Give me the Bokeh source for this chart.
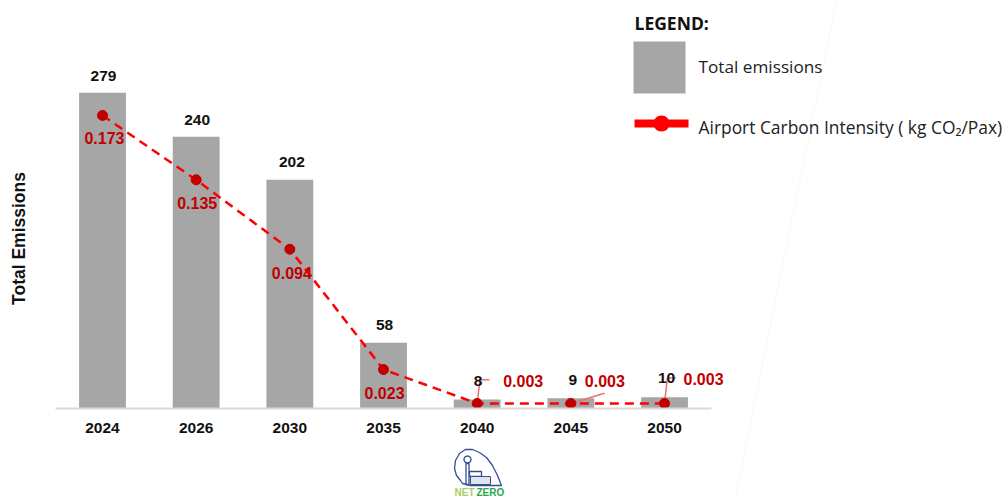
import math
from bokeh.plotting import figure
from bokeh.core.properties import value
from bokeh.models import (ColumnDataSource, Range1d, LabelSet, Label,
                          BoxAnnotation, PolyAnnotation, FixedTicker)
from bokeh.embed import file_html
from bokeh.resources import INLINE

years = ["2024", "2026", "2030", "2035", "2040", "2045", "2050"]
emissions = [279, 240, 202, 58, 8, 9, 10]
intensity = [0.173, 0.135, 0.094, 0.023, 0.003, 0.003, 0.003]
intensity_labels = ["0.173", "0.135", "0.094", "0.023", "0.003", "0.003", "0.003"]

# label offsets (style, px)
em_dx = [1, 1, 2, 1, 1, 2, 2]
em_dy = [17, 17, 18, 18, 18, 18, 19]
int_dx = [2, 1, 2, 1, 46, 34, 39]
int_dy = [-23, -23, -24, -23, 22, 22, 24]

W, H = 1005, 497
BASE_Y = 408          # pixel row of the zero line
PX_EM = 1.132         # px per emission unit
PX_CI = 1694.0        # px per kg CO2/Pax
X0, DX = 102.0, 93.67 # pixel centre of first category, category step

x_pos = list(range(len(years)))

p = figure(width=W, height=H, x_range=Range1d(-X0 / DX, (W - X0) / DX),
           y_range=Range1d(-(H - BASE_Y) / PX_EM, BASE_Y / PX_EM),
           toolbar_location=None, output_backend="svg",
           min_border_left=0, min_border_right=0, min_border_top=0, min_border_bottom=0,
           outline_line_color=None, background_fill_color="white")
p.grid.visible = False
p.yaxis.visible = False
p.extra_y_ranges = {"ci": Range1d(-(H - BASE_Y) / PX_CI, BASE_Y / PX_CI)}

ax = p.xaxis[0]
ax.fixed_location = 0
ax.bounds = (-0.5, len(years) - 0.5)
ax.ticker = FixedTicker(ticks=x_pos)
ax.major_label_overrides = {i: y for i, y in zip(x_pos, years)}
ax.axis_line_color = "#d9d9d9"
ax.axis_line_width = 2
ax.major_tick_line_color = None
ax.minor_tick_line_color = None
ax.major_label_text_font = "Liberation Sans"
ax.major_label_text_font_style = "bold"
ax.major_label_text_font_size = "15.5px"
ax.major_label_text_color = "#111111"
ax.major_label_standoff = 8

# ---- screen helpers: page pixels -> frame screen coordinates (origin bottom left)
def sx(x): return x
def sy(y): return H - y

def label(x, y, text, size, color="#222222", font="Open Sans", style="normal", align="left", angle=0.0):
    p.add_layout(Label(x=sx(x), y=sy(y), x_units="screen", y_units="screen", text=text,
                       text_font=font, text_font_size=size, text_font_style=style, text_color=color,
                       text_align=align, text_baseline="middle", angle=angle))

def box(l, t, r, b, color):
    p.add_layout(BoxAnnotation(left=sx(l), right=sx(r), top=sy(t), bottom=sy(b), left_units="screen",
                               right_units="screen", top_units="screen", bottom_units="screen",
                               fill_color=color, fill_alpha=1, line_color=None, level="overlay"))

def poly(xs, ys, fill=None, line="#34508f", lw=1.3, level="overlay"):
    p.add_layout(PolyAnnotation(xs=[sx(x) for x in xs], ys=[sy(y) for y in ys], xs_units="screen",
                                ys_units="screen", fill_color=fill, fill_alpha=1 if fill else 0,
                                line_color=line, line_alpha=1, line_width=lw, level=level))

def circle(cx, cy, r):
    a = [i * 2 * math.pi / 32 for i in range(32)]
    return [cx + r * math.cos(t) for t in a], [cy + r * math.sin(t) for t in a]

# faint diagonal trace from the source background
poly([836, 735], [0, 497], line="#f8f8f8", lw=1, level="underlay")

src = ColumnDataSource(dict(x=x_pos, em=emissions, ci=intensity, lab=intensity_labels,
                            em_lab=[str(v) for v in emissions],
                            em_dx=em_dx, em_dy=em_dy, int_dx=int_dx, int_dy=int_dy))
p.vbar(x="x", top="em", bottom=0, width=0.5, source=src, fill_color="#a6a6a6", line_color=None)

# leader lines (from the data point to the floating label)
leaders = [(4, [(0.0, 0.003), (0.03, 0.017), (0.13, 0.017)]),
           (5, [(0.0, 0.003), (0.36, 0.009)]),
           (6, [(0.0, 0.003), (0.03, 0.018), (0.12, 0.018)])]
for idx, pts in leaders:
    p.line(x=[x_pos[idx] + d for d, _ in pts], y=[v for _, v in pts], y_range_name="ci",
           line_color="#f07070", line_width=1.5)

p.line(x="x", y="ci", source=src, y_range_name="ci", line_color="#ff0000", line_width=2.5,
       line_dash="9 6")
p.scatter(x="x", y="ci", source=src, y_range_name="ci", size=10, fill_color="#c00000",
          line_color="#c00000")

p.add_layout(LabelSet(x="x", y="em", text="em_lab", source=src, x_offset="em_dx", y_offset="em_dy",
                      text_align="center", text_baseline="middle", text_font=value("Liberation Sans"),
                      text_font_style="bold", text_font_size="15.5px", text_color="#111111"))
p.add_layout(LabelSet(x="x", y="ci", text="lab", source=src, y_range_name="ci", x_offset="int_dx",
                      y_offset="int_dy", text_align="center", text_baseline="middle",
                      text_font=value("Liberation Sans"), text_font_style="bold",
                      text_font_size="16px", text_color="#c00000"))

# y axis title
label(18, 238, "Total Emissions", "17.5px", color="#111111", font="Liberation Sans", style="bold",
      align="center", angle=math.pi / 2)

# legend
label(634, 22, "LEGEND:", "17.5px", color="#111111", style="bold")
box(633, 41, 685, 93, "#a6a6a6")
label(698, 66, "Total emissions", "17.2px")
box(634, 119, 688, 127, "#ff0000")
cx, cy = circle(661, 123, 8)
poly(cx, cy, fill="#ff0000", line="#ff0000", lw=0)
label(698, 126, "Airport Carbon Intensity ( kg CO\u2082/Pax)", "17.4px")

# logo
tx = [460, 456, 454, 455, 459, 465, 472, 479, 486, 492, 497, 501, 470, 462]
ty = [480, 475, 468, 460, 453, 449, 449, 452, 457, 465, 475, 485, 485, 483]
poly(tx, ty)
cx, cy = circle(467, 459, 3.5)
poly(cx, cy)
poly([465.5, 468.5, 468.5, 465.5], [463, 463, 484, 484])
poly([469, 481, 481, 469], [471, 471, 476, 476])
poly([470, 490, 490, 470], [476, 476, 484, 484], fill="#dfe4f0", lw=1)
label(480, 480.5, "2050", "8px", color="#34508f", font="Liberation Sans", align="center")
label(454, 491.5, "NET", "10px", color="#a8cf6a", font="Liberation Sans", style="bold")
label(476, 491.5, "ZERO", "10px", color="#2aa84a", font="Liberation Sans", style="bold")

open("out.html", "w").write(file_html(p, INLINE))
